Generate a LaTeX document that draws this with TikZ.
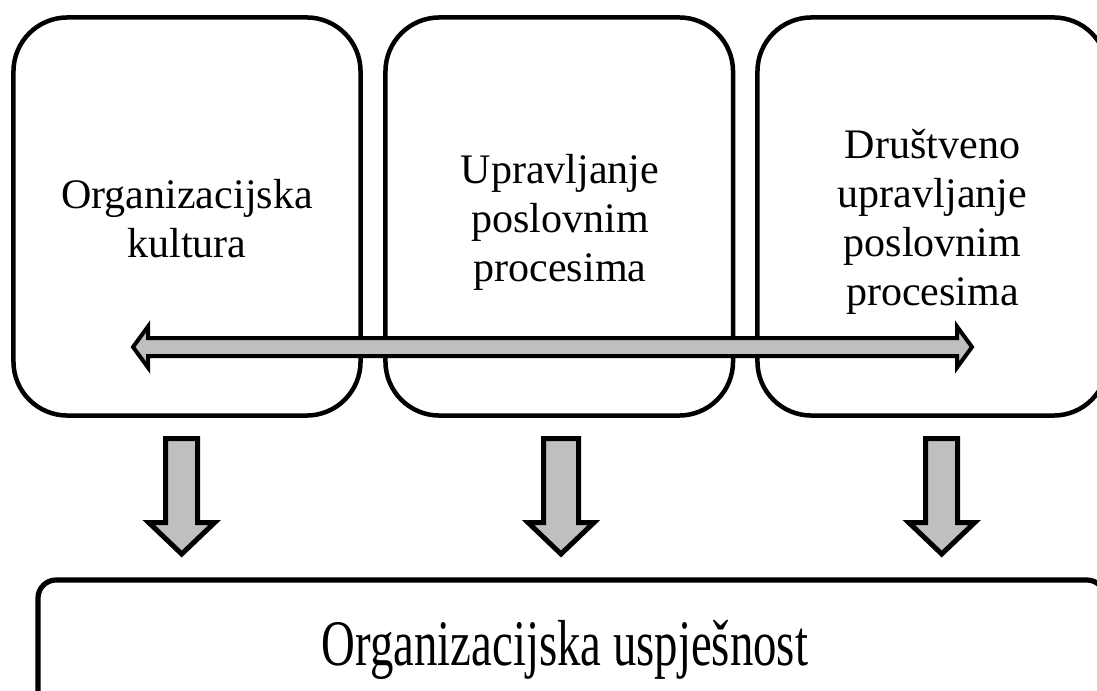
\documentclass[tikz,border=0pt]{standalone}
\usepackage{fontspec}
\usepackage{graphicx}
\setmainfont{Liberation Serif}
\definecolor{arrowgray}{HTML}{BFBFBF}
\begin{document}
\begin{tikzpicture}[x=0.025cm,y=-0.025cm,
  topbox/.style={draw=black, line width=0.1125cm, rounded corners=1.35cm, inner sep=0pt, minimum height=9.95cm},
  bottombox/.style={draw=black, line width=0.13cm, rounded corners=0.45cm, inner sep=0pt},
  boxtext/.style={align=center, inner sep=0pt, font=\fontsize{29.9}{34.9}\selectfont},
  bigtext/.style={inner sep=0pt, font=\fontsize{46.2}{52}\selectfont},
  blockarrow/.style={draw=black, fill=arrowgray, line join=miter},
]
\clip (0,0) rectangle (1097,690);
% top boxes
\node[topbox, minimum width=8.675cm] (b1) at (187,216.5) {};
\node[topbox, minimum width=8.6875cm] (b2) at (559.25,216.5) {};
\node[topbox, minimum width=8.75cm] (b3) at (932.5,216.5) {};
\node[boxtext] (t1) at (187,218.2) {Organizacijska\\kultura};
\node[boxtext] (t2) at (560,222.7) {Upravljanje\\poslovnim\\procesima};
\node[boxtext] (t3) at (932.5,221.9) {Društveno\\upravljanje\\poslovnim\\procesima};
% bottom box
\draw[bottombox] (38,720) -- (38,580) -- (1105,580) -- (1105,720);
\node[bigtext] (t4) at (565,649.9) {\scalebox{0.72}[1]{Organizacijska uspješnost}};
% horizontal double arrow
\coordinate (hl) at (133,347);
\coordinate (hr) at (972,347);
\draw[blockarrow, line width=0.1cm]
  (hl) -- ([shift={(15,-20.5)}]hl) -- ([shift={(15,-9)}]hl) -- ([shift={(-15,-9)}]hr)
  -- ([shift={(-15,-20.5)}]hr) -- (hr) -- ([shift={(-15,20.5)}]hr) -- ([shift={(-15,9)}]hr)
  -- ([shift={(15,9)}]hl) -- ([shift={(15,20.5)}]hl) -- cycle;
% down arrows
\foreach \n/\cx/\hw in {1/181.7/16, 2/561/17.5, 3/941.7/16}{
  \coordinate (d\n) at (\cx,554);
  \draw[blockarrow, line width=0.125cm]
    (d\n) -- ([shift={(-33,-31.5)}]d\n) -- ([shift={(-\hw,-31.5)}]d\n) -- ([shift={(-\hw,-115.5)}]d\n)
    -- ([shift={(\hw,-115.5)}]d\n) -- ([shift={(\hw,-31.5)}]d\n) -- ([shift={(33,-31.5)}]d\n) -- cycle;
}
\end{tikzpicture}
\end{document}
